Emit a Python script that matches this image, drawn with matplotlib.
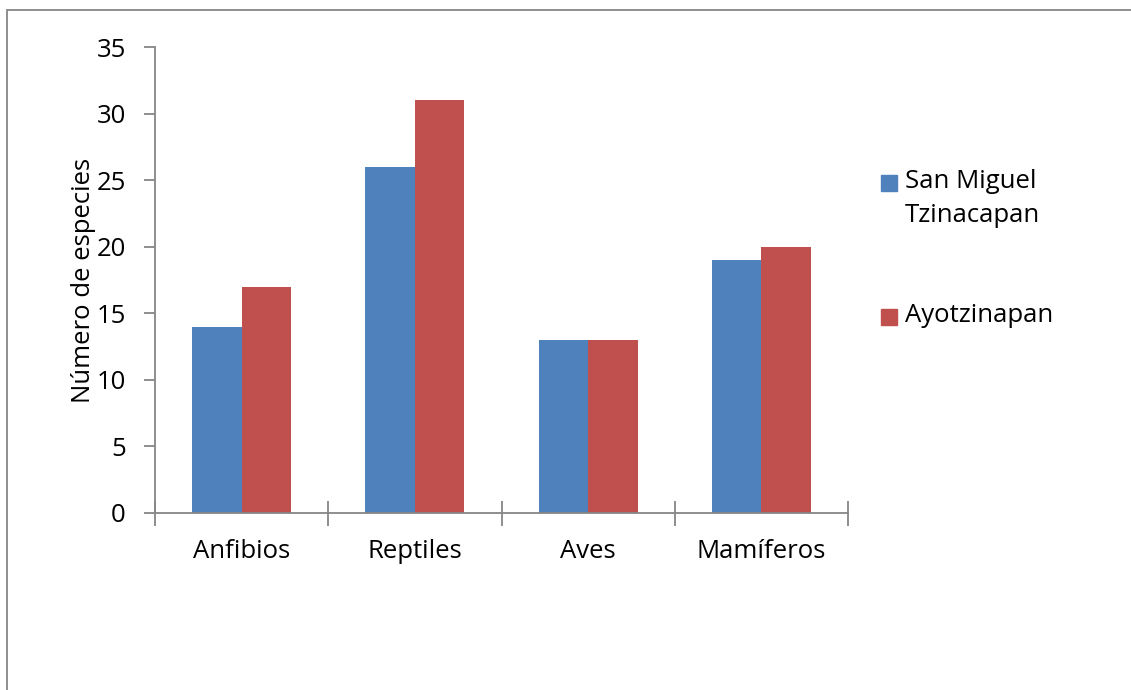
import matplotlib.pyplot as plt
from matplotlib.patches import Rectangle
import numpy as np

# Número de especies por grupo y localidad
grupos = ["Anfibios", "Reptiles", "Aves", "Mamíferos"]
series = ["San Miguel\nTzinacapan", "Ayotzinapan"]
san_miguel = [14, 26, 13, 19]
ayotzinapan = [17, 31, 13, 20]
colores = ["#4F81BD", "#C0504D"]
yticks = [0, 5, 10, 15, 20, 25, 30, 35]

plt.rcParams['font.family'] = ['Open Sans', 'DejaVu Sans']
gris = "#868686"

fig = plt.figure(figsize=(11.31, 6.9), dpi=100)
ax = fig.add_axes([155/1131, 1 - 513/690, (848 - 155)/1131, (513 - 47)/690])

x = np.arange(len(grupos))
w = 1 / 3.5
ax.bar(x - w/2, san_miguel, w, color=colores[0], label=series[0])
ax.bar(x + w/2, ayotzinapan, w, color=colores[1], label=series[1])

ax.set_xlim(-0.5, len(grupos) - 0.5)
ax.set_ylim(0, 35)
ax.set_yticks(yticks)
ax.set_yticklabels([str(v) for v in yticks], fontsize=18.5)

# ticks at the category boundaries, labels centred on each group
ax.set_xticks(np.arange(-0.5, len(grupos)), labels=[""] * (len(grupos) + 1))
ax.set_xticks(x, labels=grupos, minor=True, fontsize=18.5)
ax.tick_params(axis='x', which='major', direction='inout', length=18, width=1.3, color=gris)
ax.tick_params(axis='x', which='minor', length=0, pad=19)
ax.tick_params(axis='y', direction='out', length=8, width=1.3, color=gris, pad=13)

for s in ['top', 'right']:
    ax.spines[s].set_visible(False)
for s in ['left', 'bottom']:
    ax.spines[s].set_color(gris)
    ax.spines[s].set_linewidth(1.3)

ax.set_ylabel("Número de especies", fontsize=18.5, labelpad=0)

# leyenda a la derecha
ley_y = [1 - 183/690, 1 - 317/690]
for i, (nombre, c) in enumerate(zip(series, colores)):
    fig.add_artist(Rectangle((881/1131, ley_y[i] - 8/690), 16/1131, 16/690,
                             transform=fig.transFigure, color=c))
    fig.text(905/1131, ley_y[i] + 14/690, nombre, fontsize=18.5, va='top',
             ha='left', linespacing=1.45)

# marco del gráfico
fig.add_artist(Rectangle((7/1131, -0.1), 1.2, 1.1 - 10/690, transform=fig.transFigure,
                         fill=False, edgecolor=gris, linewidth=1.3))

fig.savefig("out.png", dpi=100)
